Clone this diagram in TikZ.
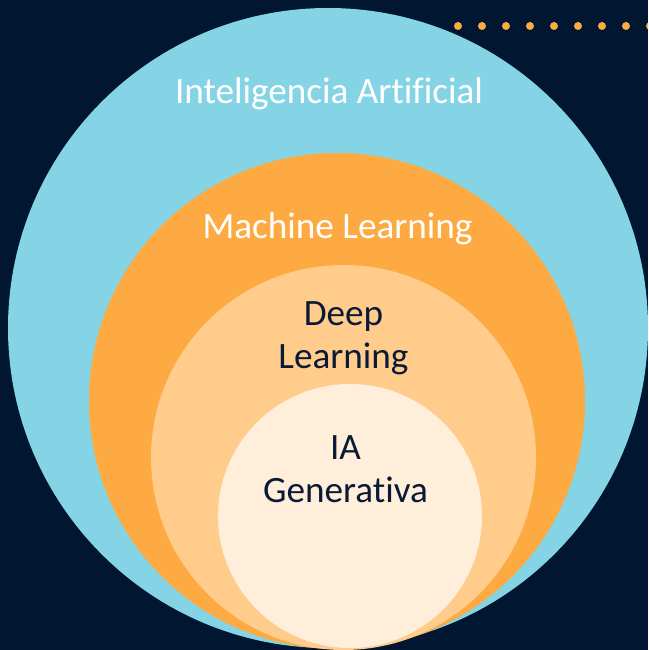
\documentclass[tikz,border=0pt]{standalone}
\usepackage{fontspec}
\setmainfont{Carlito}[Ligatures=NoCommon]
\definecolor{bgnavy}{HTML}{011631}
\definecolor{aiblue}{HTML}{85D4E6}
\definecolor{mlorange}{HTML}{FEAA42}
\definecolor{dlorange}{HTML}{FFCC8C}
\definecolor{gencream}{HTML}{FFEEDA}
\definecolor{textnavy}{HTML}{0A1A36}
\tikzset{
  ring/.style={circle, inner sep=0pt, outer sep=0pt, draw=none},
  lbl/.style={inner sep=0pt, anchor=base, align=center,
    font=\fontsize{37.2}{43.3}\selectfont},
  dotmark/.style={circle, inner sep=0pt, minimum size=8pt, fill=mlorange}
}
\begin{document}
\begin{tikzpicture}[x=1pt,y=-1pt]
\fill[bgnavy] (0,0) rectangle (648,650);
\useasboundingbox (0,0) rectangle (648,650);
\begin{scope}
\clip (0,0) rectangle (648,650);
\node[ring, fill=aiblue, minimum size=640pt] (ai) at (328,328) {};
\node[ring, fill=mlorange, minimum size=496pt] (ml) at (337,401) {};
\node[ring, fill=dlorange, minimum size=385pt] (dl) at (343.5,457.5) {};
\node[ring, fill=gencream, minimum size=264pt] (gen) at (350,516) {};
\foreach \i in {0,...,8} {
  \node[dotmark] (dot\i) at ({458+24*\i},26) {};
}
\end{scope}
\node[lbl, text=white] (tai) at (329,103) {Inteligencia Artificial};
\node[lbl, text=white] (tml) at (337.5,238) {Machine Learning};
\node[lbl, text=textnavy] (tdl) at (343.5,368.3) {Deep\\Learning};
\node[lbl, text=textnavy] (tgen) at (345.5,502.7) {IA\\Generativa};
\end{tikzpicture}
\end{document}
